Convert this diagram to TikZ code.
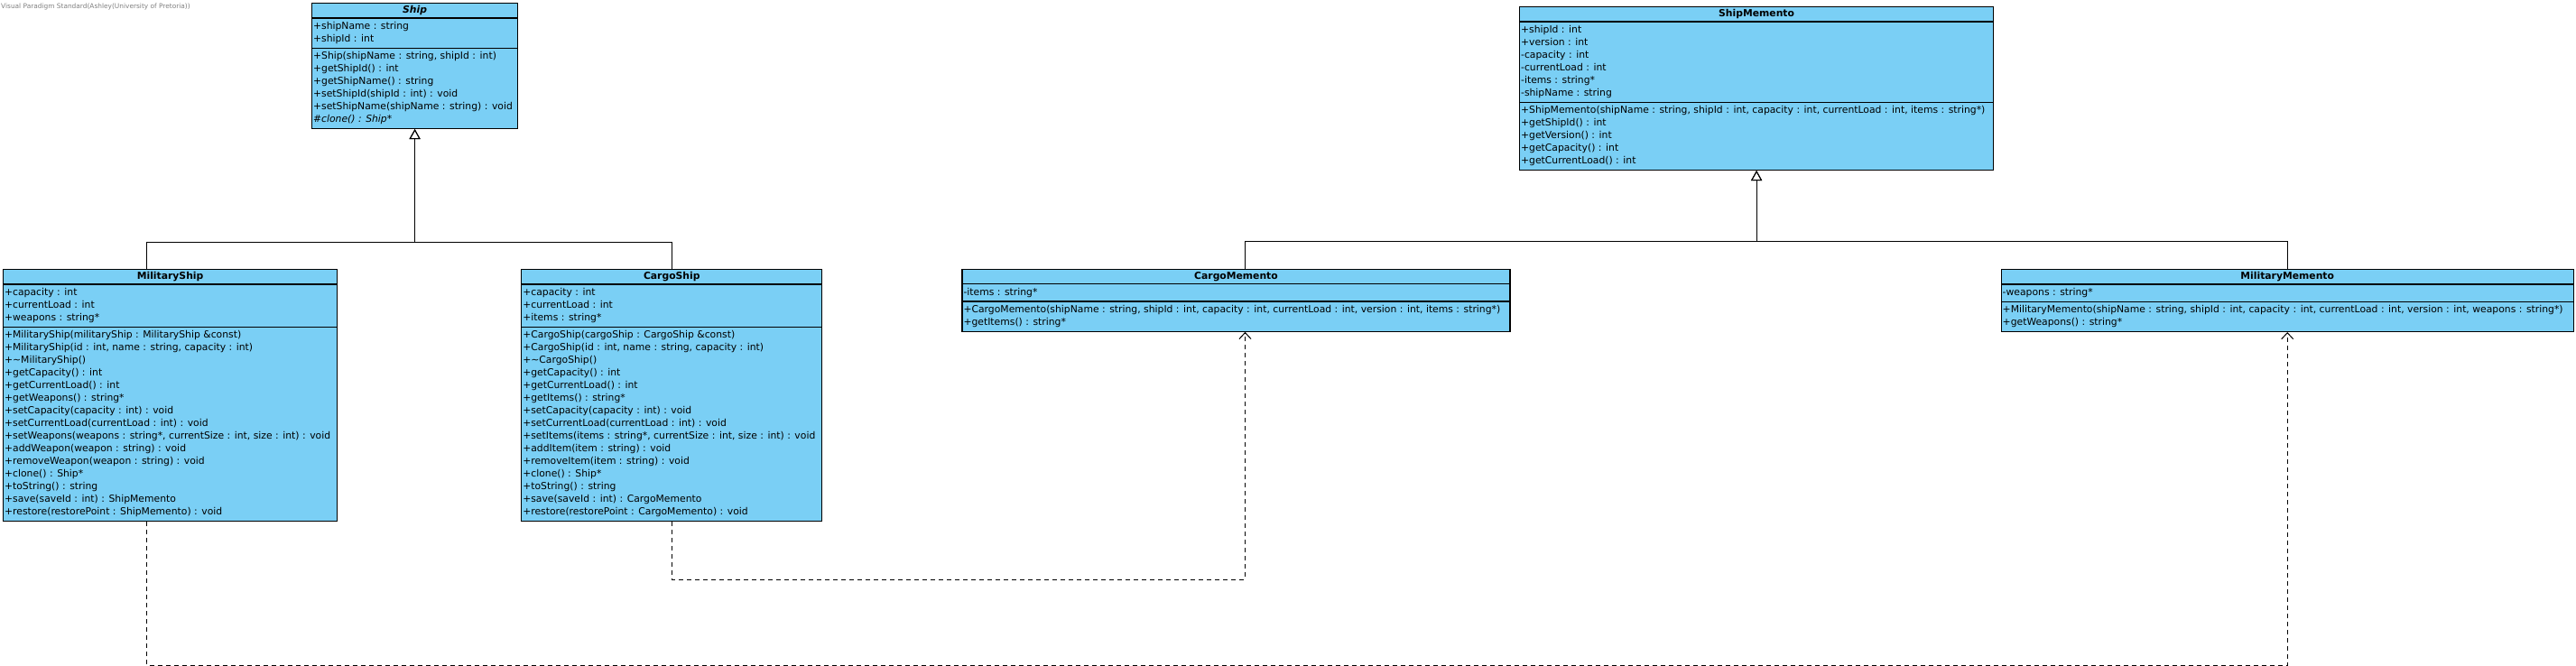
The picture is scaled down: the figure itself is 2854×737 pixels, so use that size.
\documentclass[tikz,border=0pt]{standalone}
\usepackage{fontspec}
\setmainfont{DejaVu Sans}
\usepackage{tikz}
\usetikzlibrary{shapes.multipart, arrows.meta, positioning}
\definecolor{classBlue}{RGB}{122,207,245}
\tikzstyle{classBox} = [rectangle split, rectangle split parts=3, rectangle split part align={center,left,left}, align=left, draw=black, line width=1.2pt, fill=classBlue, inner xsep=1.5pt, inner ysep=2pt, font=\fontsize{10.8}{14}\selectfont, anchor=north west]
\tikzstyle{inherit} = [line width=1pt, -{Triangle[open, length=11pt, width=12pt]}]
\tikzstyle{depend} = [line width=1pt, dash pattern=on 5pt off 4pt, -{Straight Barb[length=7pt, width=13pt]}]
\newcommand{\titlestrut}{\rule[-3pt]{0pt}{11pt}}

\begin{document}
\begin{tikzpicture}[x=1pt, y=-1pt]
    \useasboundingbox (0,0) rectangle (2854,737);
    \node (watermark) [anchor=west, text=gray, inner sep=0pt, font=\fontsize{7.4}{8}\selectfont] at (1,7) {Visual Paradigm Standard(Ashley(University of Pretoria))};
    % Ship hierarchy
    \node (ship) [classBox, minimum width=228pt] at (345,3) {\titlestrut\textbf{\textit{Ship}}
        \nodepart{two}\strut+shipName : string\\+shipId : int\strut
        \nodepart{three}\strut+Ship(shipName : string, shipId : int)\\+getShipId() : int\\+getShipName() : string\\+setShipId(shipId : int) : void\\+setShipName(shipName : string) : void\\\textit{\#clone() : Ship*}\strut};
    \node (militaryShip) [classBox, minimum width=370pt] at (3,298) {\titlestrut\textbf{MilitaryShip}
        \nodepart{two}\strut+capacity : int\\+currentLoad : int\\+weapons : string*\strut
        \nodepart{three}\strut+MilitaryShip(militaryShip : MilitaryShip \&const)\\+MilitaryShip(id : int, name : string, capacity : int)\\+\textasciitilde MilitaryShip()\\+getCapacity() : int\\+getCurrentLoad() : int\\+getWeapons() : string*\\+setCapacity(capacity : int) : void\\+setCurrentLoad(currentLoad : int) : void\\+setWeapons(weapons : string*, currentSize : int, size : int) : void\\+addWeapon(weapon : string) : void\\+removeWeapon(weapon : string) : void\\+clone() : Ship*\\+toString() : string\\+save(saveId : int) : ShipMemento\\+restore(restorePoint : ShipMemento) : void\strut};
    \node (cargoShip) [classBox, minimum width=333pt, right=203pt of militaryShip.north east, anchor=north west] {\titlestrut\textbf{CargoShip}
        \nodepart{two}\strut+capacity : int\\+currentLoad : int\\+items : string*\strut
        \nodepart{three}\strut+CargoShip(cargoShip : CargoShip \&const)\\+CargoShip(id : int, name : string, capacity : int)\\+\textasciitilde CargoShip()\\+getCapacity() : int\\+getCurrentLoad() : int\\+getItems() : string*\\+setCapacity(capacity : int) : void\\+setCurrentLoad(currentLoad : int) : void\\+setItems(items : string*, currentSize : int, size : int) : void\\+addItem(item : string) : void\\+removeItem(item : string) : void\\+clone() : Ship*\\+toString() : string\\+save(saveId : int) : CargoMemento\\+restore(restorePoint : CargoMemento) : void\strut};
    % Memento hierarchy
    \node (shipMemento) [classBox, minimum width=525pt] at (1683,7) {\titlestrut\textbf{ShipMemento}
        \nodepart{two}\strut+shipId : int\\+version : int\\-capacity : int\\-currentLoad : int\\-items : string*\\-shipName : string\strut
        \nodepart{three}\strut+ShipMemento(shipName : string, shipId : int, capacity : int, currentLoad : int, items : string*)\\+getShipId() : int\\+getVersion() : int\\+getCapacity() : int\\+getCurrentLoad() : int\strut};
    \node (cargoMemento) [classBox, minimum width=607pt, right=154pt of cargoShip.north east, anchor=north west] {\titlestrut\textbf{CargoMemento}
        \nodepart{two}\strut-items : string*\strut
        \nodepart{three}\strut+CargoMemento(shipName : string, shipId : int, capacity : int, currentLoad : int, version : int, items : string*)\\+getItems() : string*\strut};
    \node (militaryMemento) [classBox, minimum width=634pt, right=543pt of cargoMemento.north east, anchor=north west] {\titlestrut\textbf{MilitaryMemento}
        \nodepart{two}\strut-weapons : string*\strut
        \nodepart{three}\strut+MilitaryMemento(shipName : string, shipId : int, capacity : int, currentLoad : int, version : int, weapons : string*)\\+getWeapons() : string*\strut};

    % bends
    \path (ship.south |- cargoShip.north) ++(0,-30) coordinate (shipBar);
    \path (shipMemento.south |- cargoMemento.north) ++(0,-31) coordinate (mementoBar);
    \path (cargoShip.south) ++(0,64) coordinate (cargoLow);
    \path ([xshift=-26pt]militaryShip.south) ++(0,159) coordinate (militaryLow);

    \draw [inherit] ([xshift=-26pt]militaryShip.north) |- (shipBar) -- (ship.south);
    \draw [inherit] (cargoShip.north) |- (shipBar) -- (ship.south);
    %
    \draw [inherit] ([xshift=10pt]cargoMemento.north) |- (mementoBar) -- (shipMemento.south);
    \draw [inherit] (militaryMemento.north) |- (mementoBar) -- (shipMemento.south);
    %
    \draw [depend] (cargoShip.south) -- (cargoLow) -| ([xshift=10pt]cargoMemento.south);
    \draw [depend] ([xshift=-26pt]militaryShip.south) -- (militaryLow) -| (militaryMemento.south);
\end{tikzpicture}
\end{document}
